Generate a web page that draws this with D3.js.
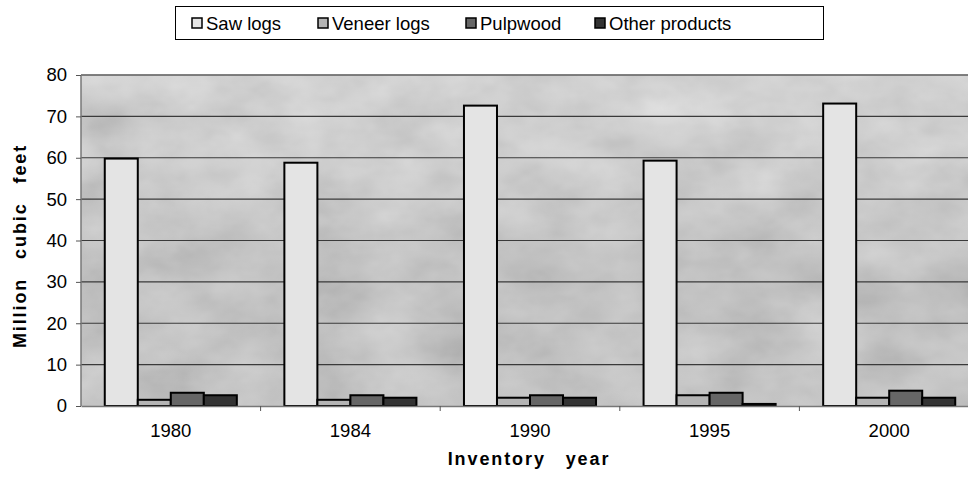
<!DOCTYPE html>
<html lang="en">
<head>
<meta charset="utf-8">
<title>Timber products by inventory year</title>
<script src="https://cdn.jsdelivr.net/npm/d3@7"></script>
<style>
  body { margin: 0; background: #fff; }
  svg text { font-family: "Liberation Sans", Arial, sans-serif; }
</style>
</head>
<body>
<svg id="chart" width="968" height="480"></svg>
<script>
// data
var years = ["1980", "1984", "1990", "1995", "2000"];
var seriesNames = ["Saw logs", "Veneer logs", "Pulpwood", "Other products"];
var sawLogs = [59.8, 58.8, 72.6, 59.3, 73.1];
var veneerLogs = [1.5, 1.5, 2.0, 2.6, 2.0];
var pulpwood = [3.2, 2.6, 2.6, 3.2, 3.7];
var otherProducts = [2.6, 2.0, 2.0, 0.5, 2.0];
var yTicks = [0, 10, 20, 30, 40, 50, 60, 70, 80];
var colors = ["#e4e4e4", "#b4b4b4", "#666666", "#333333"];

var values = [sawLogs, veneerLogs, pulpwood, otherProducts];

var svg = d3.select("#chart");
var plotLeft = 81, plotRight = 979, plotTop = 75, plotBottom = 406;

var x = d3.scaleBand().domain(years).range([plotLeft, plotRight]).padding(0);
var xs = d3.scaleBand().domain(seriesNames).range([0, x.bandwidth()])
    .paddingInner(0).paddingOuter(0.72);
var y = d3.scaleLinear().domain([0, 80]).range([plotBottom, plotTop]);

// textured background for the plot area
var defs = svg.append("defs");
var f = defs.append("filter").attr("id", "tex")
    .attr("x", 0).attr("y", 0).attr("width", 1).attr("height", 1);
f.append("feTurbulence").attr("type", "fractalNoise")
    .attr("baseFrequency", "0.014 0.022").attr("numOctaves", 4).attr("seed", 7);
f.append("feColorMatrix").attr("type", "matrix")
    .attr("values", "0.33 0.33 0.33 0 0.05  0.33 0.33 0.33 0 0.05  0.33 0.33 0.33 0 0.05  0 0 0 0 0.4");
var grad = defs.append("linearGradient").attr("id", "bg")
    .attr("x1", 0).attr("y1", 0).attr("x2", 0).attr("y2", 1);
grad.append("stop").attr("offset", "0").attr("stop-color", "#dcdcdc");
grad.append("stop").attr("offset", "0.35").attr("stop-color", "#d0d0d0");
grad.append("stop").attr("offset", "0.6").attr("stop-color", "#c0c0c0");
grad.append("stop").attr("offset", "1").attr("stop-color", "#c6c6c6");

svg.append("rect")
    .attr("x", plotLeft).attr("y", plotTop)
    .attr("width", plotRight - plotLeft).attr("height", plotBottom - plotTop)
    .attr("fill", "url(#bg)");
svg.append("rect")
    .attr("x", plotLeft).attr("y", plotTop)
    .attr("width", plotRight - plotLeft).attr("height", plotBottom - plotTop)
    .attr("filter", "url(#tex)");

// grid lines
svg.append("g").selectAll("line")
    .data(yTicks.slice(1))
    .enter().append("line")
    .attr("x1", plotLeft).attr("x2", plotRight)
    .attr("y1", function (d) { return y(d); })
    .attr("y2", function (d) { return y(d); })
    .attr("stroke", "#3a3a3a").attr("stroke-width", 1.2);

// plot frame (top and left)
svg.append("line").attr("x1", plotLeft).attr("x2", plotRight).attr("y1", plotTop).attr("y2", plotTop)
    .attr("stroke", "#777").attr("stroke-width", 1.5);
svg.append("line").attr("x1", plotLeft).attr("x2", plotLeft).attr("y1", plotTop).attr("y2", plotBottom)
    .attr("stroke", "#777").attr("stroke-width", 1.5);

// bars
var groups = svg.append("g").selectAll("g")
    .data(years)
    .enter().append("g")
    .attr("transform", function (d) { return "translate(" + x(d) + ",0)"; });

groups.selectAll("rect")
    .data(function (d, i) {
        return seriesNames.map(function (s, j) {
            return { series: s, value: values[j][i], color: colors[j] };
        });
    })
    .enter().append("rect")
    .attr("x", function (d) { return xs(d.series); })
    .attr("y", function (d) { return y(d.value); })
    .attr("width", xs.bandwidth())
    .attr("height", function (d) { return y(0) - y(d.value); })
    .attr("fill", function (d) { return d.color; })
    .attr("stroke", "#000").attr("stroke-width", 2);

// y axis
var yAxis = svg.append("g")
    .attr("transform", "translate(" + plotLeft + ",0)")
    .call(d3.axisLeft(y).tickValues(yTicks).tickSize(5).tickPadding(9));
yAxis.select(".domain").remove();
yAxis.selectAll("line").attr("stroke", "#555");
yAxis.selectAll("text").attr("font-size", 18.5).attr("fill", "#000")
    .style("font-family", "'Liberation Sans', Arial, sans-serif");

// x axis
var xAxis = svg.append("g")
    .attr("transform", "translate(0," + plotBottom + ")")
    .call(d3.axisBottom(x).tickSize(0).tickPadding(18));
xAxis.select(".domain").attr("stroke", "#777").attr("stroke-width", 1.5);
xAxis.selectAll("text").attr("font-size", 18.5).attr("fill", "#000")
    .style("font-family", "'Liberation Sans', Arial, sans-serif");
svg.append("g").selectAll("line")
    .data(years.slice(1))
    .enter().append("line")
    .attr("x1", function (d) { return x(d); })
    .attr("x2", function (d) { return x(d); })
    .attr("y1", plotBottom).attr("y2", plotBottom + 5)
    .attr("stroke", "#555");

// axis titles
svg.append("text")
    .attr("x", 529).attr("y", 465)
    .attr("text-anchor", "middle")
    .attr("font-size", 18).attr("font-weight", "bold")
    .style("letter-spacing", "1.9px").style("word-spacing", "13px")
    .text("Inventory year");

svg.append("text")
    .attr("transform", "translate(26,246) rotate(-90)")
    .attr("text-anchor", "middle")
    .attr("font-size", 18).attr("font-weight", "bold")
    .style("letter-spacing", "1.9px").style("word-spacing", "12px")
    .text("Million cubic feet");

// legend
svg.append("rect")
    .attr("x", 175.5).attr("y", 6.5).attr("width", 648).attr("height", 33)
    .attr("fill", "#fff").attr("stroke", "#000");

var legendX = [192, 318, 466, 595];
var leg = svg.append("g").selectAll("g")
    .data(seriesNames)
    .enter().append("g")
    .attr("transform", function (d, i) { return "translate(" + legendX[i] + ",23)"; });
leg.append("rect")
    .attr("x", 0).attr("y", -5).attr("width", 10).attr("height", 10)
    .attr("fill", function (d, i) { return colors[i]; })
    .attr("stroke", "#000").attr("stroke-width", 1.5);
leg.append("text")
    .attr("x", 14).attr("y", 6.5)
    .attr("font-size", 18.5)
    .text(function (d) { return d; });
</script>
</body>
</html>
